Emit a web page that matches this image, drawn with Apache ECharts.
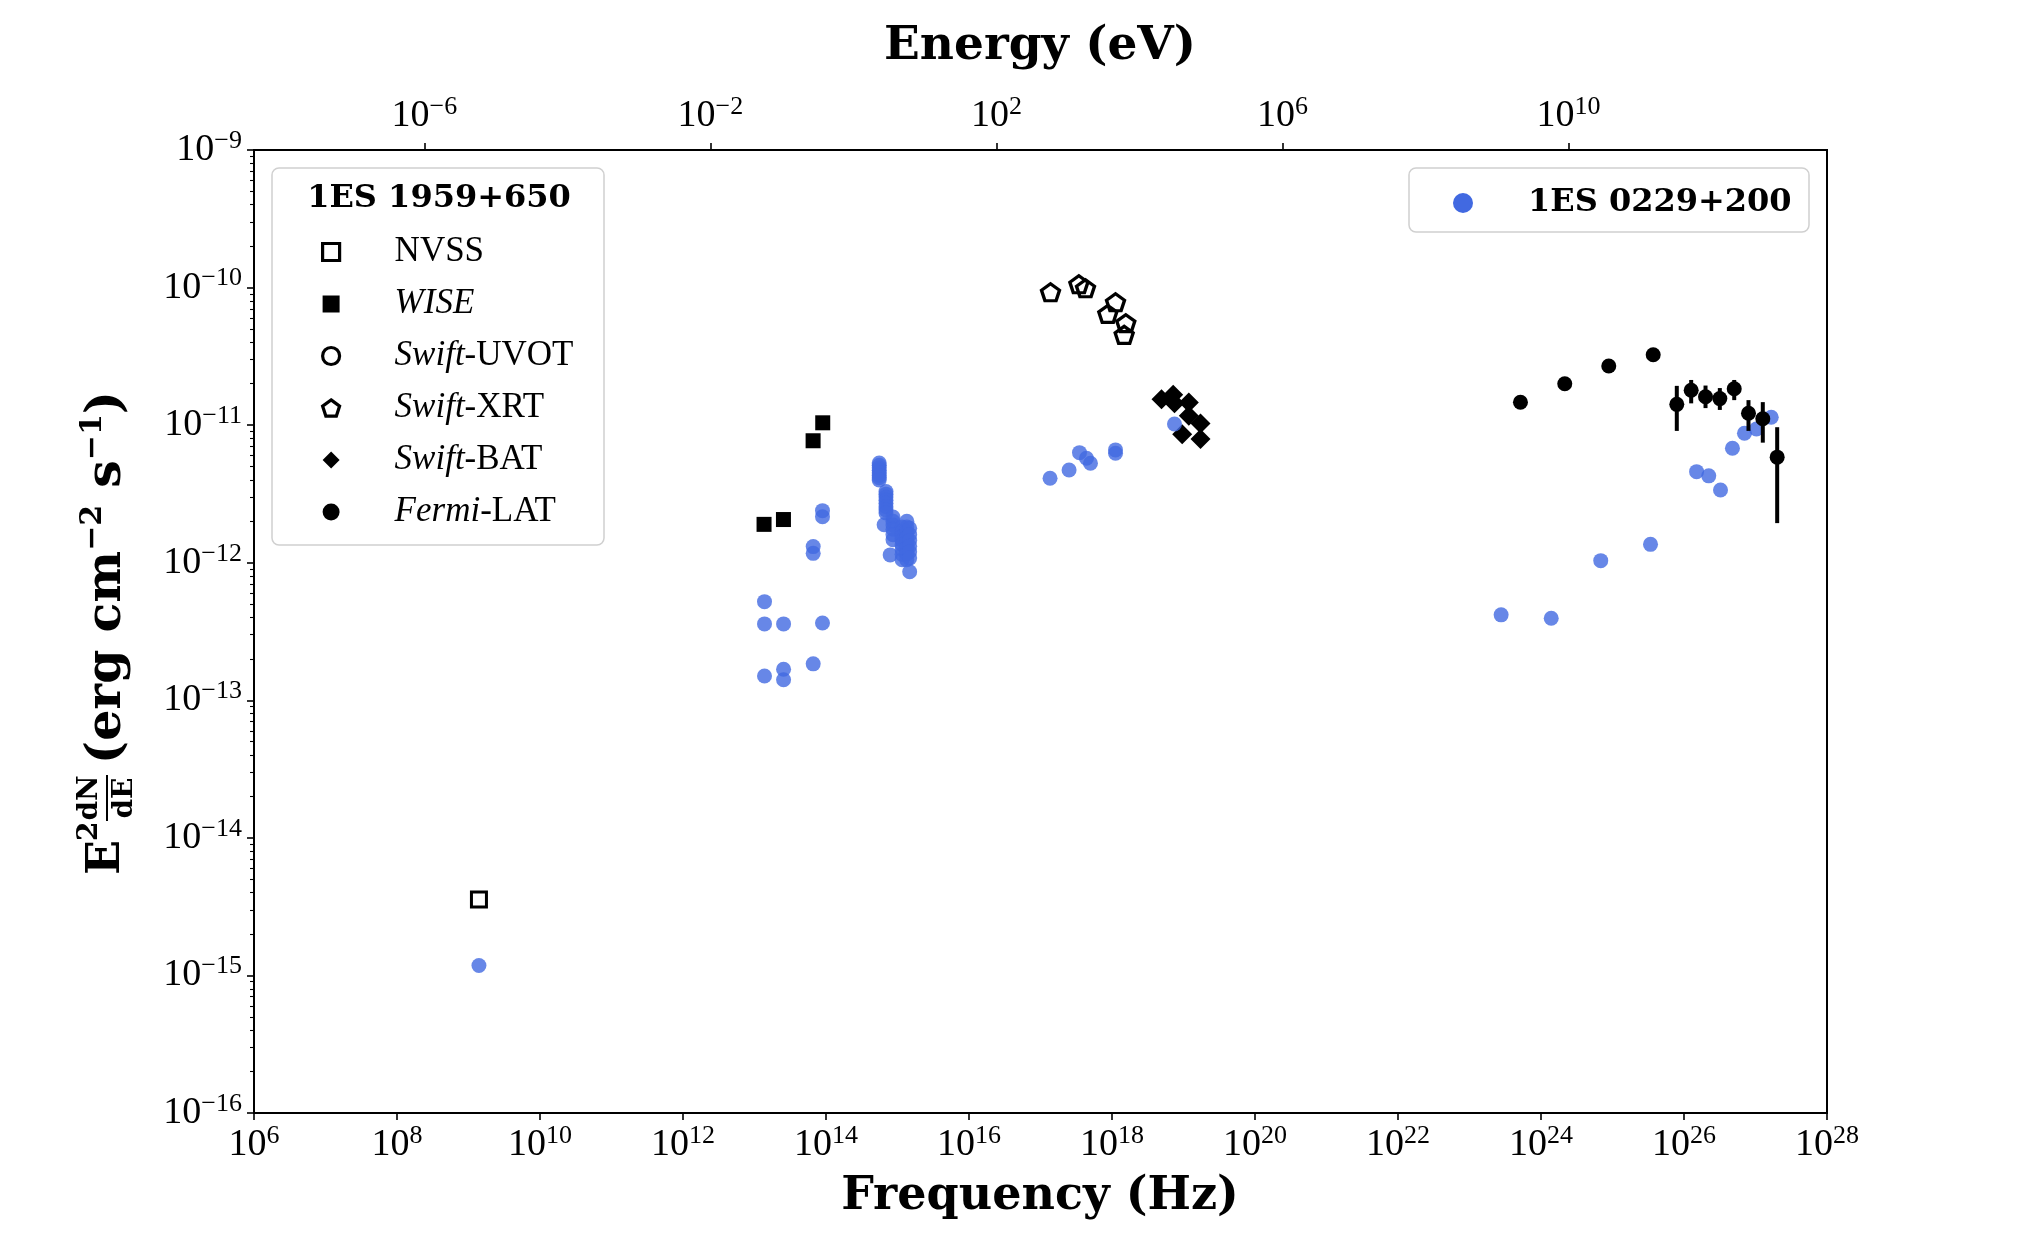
<!DOCTYPE html>
<html>
<head>
<meta charset="utf-8">
<script src="https://cdn.jsdelivr.net/npm/echarts@6/dist/echarts.min.js"></script>
<style>
  html, body { margin: 0; padding: 0; background: #fff; }
  #chart { width: 2032px; height: 1250px; }
</style>
</head>
<body>
<div id="chart"></div>
<script>
// Planck constant, eV s (top axis = h * nu)
const H_EV = 4.135667e-15;

// ---- 1ES 1959+650 ----
const nvssNu = [1.4e9];
const nvssFlux = [3.57e-15];

const wiseNu = [1.36e13, 2.54e13, 6.6e13, 9.0e13];
const wiseFlux = [1.90e-12, 2.06e-12, 7.7e-12, 1.04e-11];

const uvotNu = [];
const uvotFlux = [];

const xrtNu = [1.38e17, 3.44e17, 4.26e17, 8.73e17, 1.12e18, 1.48e18, 1.56e18];
const xrtFlux = [9.25e-11, 1.057e-10, 9.89e-11, 6.43e-11, 7.82e-11, 4.53e-11, 5.51e-11];

const batNu = [4.92e18, 7.18e18, 7.48e18, 1.186e19, 1.186e19, 1.73e19, 9.59e18, 1.73e19];
const batFlux = [1.54e-11, 1.66e-11, 1.44e-11, 1.46e-11, 1.17e-11, 1.03e-11, 8.59e-12, 7.94e-12];

const latNu = [5.16e23, 2.15e24, 8.87e24, 3.71e25, 7.93e25, 1.26e26, 2.0e26, 3.17e26, 5.04e26, 7.98e26, 1.265e27, 2.01e27];
const latFlux = [1.466e-11, 2.00e-11, 2.69e-11, 3.25e-11, 1.416e-11, 1.795e-11, 1.61e-11, 1.56e-11, 1.84e-11, 1.22e-11, 1.114e-11, 5.85e-12];
const latErrLo = [null, null, null, null, 9.08e-12, 1.44e-11, 1.33e-11, 1.29e-11, 1.52e-11, 9.08e-12, 7.46e-12, 1.94e-12];
const latErrHi = [null, null, null, null, 1.93e-11, 2.13e-11, 1.94e-11, 1.86e-11, 2.13e-11, 1.52e-11, 1.47e-11, 9.66e-12];

// ---- 1ES 0229+200 ----
const blueNu = [
  1.4e9,
  1.38e13, 1.38e13, 1.38e13,
  2.55e13, 2.55e13, 2.55e13,
  6.62e13, 6.62e13, 6.62e13,
  8.93e13, 8.93e13, 8.93e13,
  5.55e14, 5.55e14, 5.55e14, 5.55e14, 5.55e14, 5.55e14, 5.55e14, 5.55e14,
  6.9e14, 6.9e14, 6.9e14, 6.9e14, 6.9e14, 6.9e14, 6.9e14, 6.9e14, 6.5e14,
  8.65e14, 8.65e14, 8.65e14, 8.65e14, 8.65e14, 8.65e14, 7.9e14,
  1.16e15, 1.16e15, 1.16e15, 1.16e15, 1.16e15, 1.16e15, 1.16e15, 1.16e15,
  1.35e15, 1.35e15, 1.35e15, 1.35e15, 1.35e15, 1.35e15, 1.35e15, 1.35e15,
  1.48e15, 1.48e15, 1.48e15, 1.48e15, 1.48e15, 1.48e15, 1.48e15,
  1.36e17, 2.51e17, 3.51e17, 4.40e17, 5.0e17, 1.12e18, 1.12e18, 7.48e18,
  2.77e23, 1.39e24, 6.85e24, 3.40e25, 1.50e26, 2.22e26, 3.24e26, 4.76e26, 7.01e26, 1.03e27, 1.66e27
];
const blueFlux = [
  1.18e-15,
  5.21e-13, 3.59e-13, 1.50e-13,
  3.59e-13, 1.68e-13, 1.41e-13,
  1.31e-12, 1.17e-12, 1.84e-13,
  2.39e-12, 2.16e-12, 3.65e-13,
  5.31e-12, 5.1e-12, 4.9e-12, 4.7e-12, 4.5e-12, 4.3e-12, 4.15e-12, 4.0e-12,
  3.29e-12, 3.15e-12, 3.0e-12, 2.85e-12, 2.7e-12, 2.55e-12, 2.42e-12, 2.3e-12, 1.89e-12,
  2.15e-12, 2.0e-12, 1.88e-12, 1.75e-12, 1.6e-12, 1.47e-12, 1.14e-12,
  1.82e-12, 1.68e-12, 1.55e-12, 1.45e-12, 1.35e-12, 1.25e-12, 1.15e-12, 1.05e-12,
  2.0e-12, 1.82e-12, 1.66e-12, 1.52e-12, 1.4e-12, 1.28e-12, 1.16e-12, 1.05e-12,
  1.78e-12, 1.6e-12, 1.45e-12, 1.32e-12, 1.2e-12, 1.08e-12, 8.6e-13,
  4.11e-12, 4.72e-12, 6.31e-12, 5.74e-12, 5.28e-12, 6.61e-12, 6.25e-12, 1.02e-11,
  4.18e-13, 3.95e-13, 1.035e-12, 1.36e-12, 4.59e-12, 4.28e-12, 3.38e-12, 6.79e-12, 8.73e-12, 9.38e-12, 1.14e-11
];

// tick labels
const freqTicks = [1e6, 1e8, 1e10, 1e12, 1e14, 1e16, 1e18, 1e20, 1e22, 1e24, 1e26, 1e28];
const energyTicks = [1e-6, 1e-2, 1e2, 1e6, 1e10];
const fluxTicks = [1e-16, 1e-15, 1e-14, 1e-13, 1e-12, 1e-11, 1e-10, 1e-9];
const fluxMinorTicks = [];
for (let e = -16; e < -9; e++) {
  for (let k = 2; k <= 9; k++) fluxMinorTicks.push(k * Math.pow(10, e));
}

const zip = (a, b) => a.map((v, i) => [v, b[i]]);

const SERIF = "'Liberation Serif', 'DejaVu Serif', serif";
const BOLD = "'DejaVu Serif', serif";
const PENTAGON = 'path://M0,-1L0.951,-0.309L0.588,0.809L-0.588,0.809L-0.951,-0.309Z';

const powLabel = v => {
  const e = Math.round(Math.log10(v));
  return '{b|10}{s|' + String(e).replace('-', '\u2212') + '}';
};
const powRich = {
  b: { fontFamily: SERIF, fontSize: 38, lineHeight: 44, color: '#000' },
  s: { fontFamily: SERIF, fontSize: 26, lineHeight: 26, verticalAlign: 'top', color: '#000' }
};

const legendRich = {
  n: { fontFamily: SERIF, fontSize: 35, lineHeight: 40, color: '#000' },
  i: { fontFamily: SERIF, fontSize: 35, lineHeight: 40, fontStyle: 'italic', color: '#000' }
};
const legendFmt = name => {
  if (name === 'WISE') return '{i|WISE}';
  if (name.indexOf('-') > 0) {
    const p = name.split('-');
    return '{i|' + p[0] + '}{n|-' + p[1] + '}';
  }
  return '{n|' + name + '}';
};
const openIcon = { color: 'rgba(0,0,0,0)', borderColor: '#000', borderWidth: 3.2, opacity: 1 };
const fullIcon = { color: '#000', borderWidth: 0, opacity: 1 };

const chart = echarts.init(document.getElementById('chart'));

const option = {
  backgroundColor: '#fff',
  animation: false,
  grid: {
    left: 254, right: 205, top: 150, bottom: 137,
    show: true, borderColor: '#000', borderWidth: 2, backgroundColor: 'transparent'
  },
  xAxis: [
    {
      type: 'log', logBase: 10, min: 1e6, max: 1e28, position: 'bottom',
      axisLine: { show: false },
      splitLine: { show: false },
      axisTick: { show: true, customValues: freqTicks, length: 7, lineStyle: { color: '#000', width: 1.6 } },
      axisLabel: { customValues: freqTicks, formatter: powLabel, rich: powRich, margin: 10 }
    },
    {
      type: 'log', logBase: 10, min: 1e6 * H_EV, max: 1e28 * H_EV, position: 'top',
      axisLine: { show: false },
      splitLine: { show: false },
      axisTick: { show: true, customValues: energyTicks, length: 7, lineStyle: { color: '#000', width: 1.6 } },
      axisLabel: { customValues: energyTicks, formatter: powLabel, rich: powRich, margin: 12 }
    }
  ],
  yAxis: [
    {
      type: 'log', logBase: 10, min: 1e-16, max: 1e-9,
      axisLine: { show: false },
      splitLine: { show: false },
      axisTick: { show: true, customValues: fluxTicks, length: 7, lineStyle: { color: '#000', width: 1.6 } },
      axisLabel: { customValues: fluxTicks, formatter: powLabel, rich: powRich, margin: 12 }
    },
    {
      type: 'log', logBase: 10, min: 1e-16, max: 1e-9, position: 'left',
      axisLine: { show: false },
      splitLine: { show: false },
      axisTick: { show: true, customValues: fluxMinorTicks, length: 4, lineStyle: { color: '#000', width: 1.1 } },
      axisLabel: { show: false }
    }
  ],
  legend: [
    {
      data: [
        { name: 'NVSS', itemStyle: openIcon },
        { name: 'WISE', itemStyle: fullIcon },
        { name: 'Swift-UVOT', itemStyle: openIcon },
        { name: 'Swift-XRT', itemStyle: openIcon },
        { name: 'Swift-BAT', itemStyle: fullIcon },
        { name: 'Fermi-LAT', itemStyle: fullIcon }
      ],
      orient: 'vertical',
      left: 316, top: 227,
      itemWidth: 17, itemHeight: 17, itemGap: 12,
      selectedMode: false,
      formatter: legendFmt,
      textStyle: { padding: [0, 0, 0, 50], fontFamily: SERIF, fontSize: 35, lineHeight: 40, rich: legendRich }
    },
    {
      data: ['1ES 0229+200'],
      orient: 'vertical',
      left: 1448, top: 178,
      itemWidth: 20, itemHeight: 20,
      selectedMode: false,
      itemStyle: { opacity: 1 },
      textStyle: { padding: [0, 0, 0, 50], fontFamily: BOLD, fontWeight: 'bold', fontSize: 32, lineHeight: 40, color: '#000' }
    }
  ],
  graphic: [
    { type: 'rect', z: -1, shape: { x: 272, y: 168, width: 332, height: 377, r: 7 },
      style: { fill: '#fff', stroke: '#d0d0d0', lineWidth: 1.5 } },
    { type: 'rect', z: -1, shape: { x: 1409, y: 168, width: 400, height: 64, r: 7 },
      style: { fill: '#fff', stroke: '#d0d0d0', lineWidth: 1.5 } },
    { type: 'text', x: 439, y: 199,
      style: { text: '1ES 1959+650', font: 'bold 32px ' + BOLD, fill: '#000', textAlign: 'center', textVerticalAlign: 'middle' } },
    { type: 'text', x: 1040, y: 1197,
      style: { text: 'Frequency (Hz)', font: 'bold 46px ' + BOLD, fill: '#000', textAlign: 'center', textVerticalAlign: 'middle' } },
    { type: 'text', x: 1040, y: 47,
      style: { text: 'Energy (eV)', font: 'bold 47px ' + BOLD, fill: '#000', textAlign: 'center', textVerticalAlign: 'middle' } },
    {
      type: 'group', x: 107, y: 632, rotation: Math.PI / 2,
      children: [
        { type: 'text', x: -243, y: 0,
          style: { text: 'E', font: 'bold 46px ' + BOLD, fill: '#000', textAlign: 'left', textVerticalAlign: 'middle' } },
        { type: 'text', x: -209, y: -17,
          style: { text: '2', font: 'bold 28px ' + BOLD, fill: '#000', textAlign: 'left', textVerticalAlign: 'middle' } },
        { type: 'text', x: -166, y: -17,
          style: { text: 'dN', font: 'bold 28px ' + BOLD, fill: '#000', textAlign: 'center', textVerticalAlign: 'middle' } },
        { type: 'line', shape: { x1: -189, y1: 0, x2: -143, y2: 0 }, style: { stroke: '#000', lineWidth: 2 } },
        { type: 'text', x: -166, y: 18,
          style: { text: 'dE', font: 'bold 28px ' + BOLD, fill: '#000', textAlign: 'center', textVerticalAlign: 'middle' } },
        { type: 'text', x: -132, y: 0,
          style: {
            text: '{n|(erg cm}{s|\u22122}{n| s}{s|\u22121}{n|)}',
            textAlign: 'left', textVerticalAlign: 'middle',
            rich: {
              n: { fontFamily: BOLD, fontWeight: 'bold', fontSize: 49, lineHeight: 58, fill: '#000' },
              s: { fontFamily: BOLD, fontWeight: 'bold', fontSize: 30, lineHeight: 30, verticalAlign: 'top', fill: '#000' }
            }
          } }
      ]
    }
  ],
  series: [
    {
      name: '1ES 0229+200', type: 'scatter', z: 3,
      symbol: 'circle', symbolSize: 15,
      itemStyle: { color: '#4169E1', opacity: 0.8 },
      data: zip(blueNu, blueFlux)
    },
    {
      name: 'NVSS', type: 'scatter', z: 2,
      symbol: 'rect', symbolSize: 15,
      itemStyle: { color: 'rgba(0,0,0,0)', borderColor: '#000', borderWidth: 3, opacity: 1 },
      data: zip(nvssNu, nvssFlux)
    },
    {
      name: 'WISE', type: 'scatter', z: 2,
      symbol: 'rect', symbolSize: 15,
      itemStyle: { color: '#000', opacity: 1 },
      data: zip(wiseNu, wiseFlux)
    },
    {
      name: 'Swift-UVOT', type: 'scatter', z: 2,
      symbol: 'circle', symbolSize: 13,
      itemStyle: { color: 'rgba(0,0,0,0)', borderColor: '#000', borderWidth: 3, opacity: 1 },
      data: zip(uvotNu, uvotFlux)
    },
    {
      name: 'Swift-XRT', type: 'scatter', z: 2,
      symbol: PENTAGON, symbolSize: [18, 17],
      itemStyle: { color: 'rgba(0,0,0,0)', borderColor: '#000', borderWidth: 3.3, opacity: 1 },
      data: zip(xrtNu, xrtFlux)
    },
    {
      name: 'Swift-BAT', type: 'scatter', z: 2,
      symbol: 'diamond', symbolSize: 20,
      itemStyle: { color: '#000', opacity: 1 },
      data: zip(batNu, batFlux)
    },
    {
      name: 'Fermi-LAT', type: 'scatter', z: 5,
      symbol: 'circle', symbolSize: 15,
      itemStyle: { color: '#000', opacity: 1 },
      data: zip(latNu, latFlux)
    },
    {
      name: 'Fermi-LAT errors', type: 'custom', z: 4,
      coordinateSystem: 'cartesian2d',
      encode: { x: 0, y: [1, 2] },
      data: latNu.map((v, i) => [v, latErrLo[i], latErrHi[i]]).filter(d => d[1] !== null),
      renderItem: (params, api) => {
        const lo = api.coord([api.value(0), api.value(1)]);
        const hi = api.coord([api.value(0), api.value(2)]);
        return {
          type: 'line',
          shape: { x1: lo[0], y1: lo[1], x2: hi[0], y2: hi[1] },
          style: { stroke: '#000', lineWidth: 4 }
        };
      }
    }
  ]
};

chart.setOption(option);
</script>
</body>
</html>
